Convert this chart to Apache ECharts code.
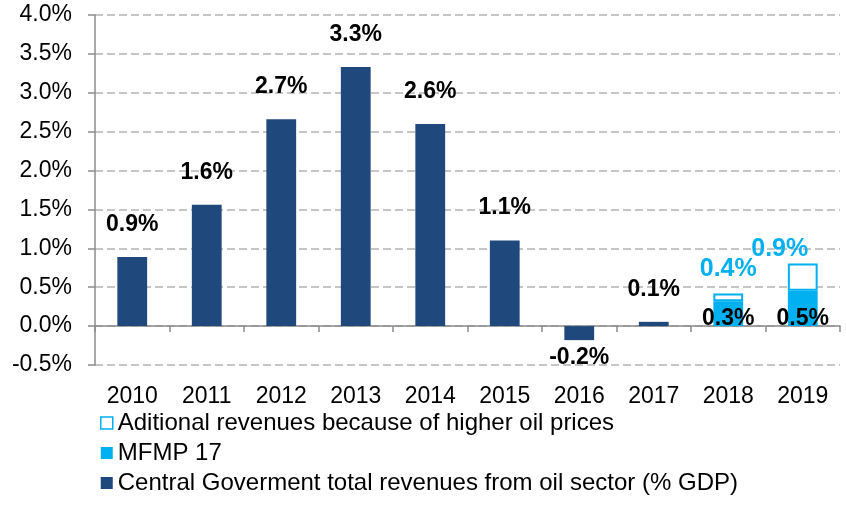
<!DOCTYPE html>
<html>
<head>
<meta charset="utf-8">
<script src="https://cdn.jsdelivr.net/npm/echarts@6/dist/echarts.min.js"></script>
<style>html,body{margin:0;padding:0;background:#fff}#c{width:846px;height:506px}</style>
</head>
<body>
<div id="c"></div>
<script>
const years = ['2010','2011','2012','2013','2014','2015','2016','2017','2018','2019'];
const oilRevenue = [0.89, 1.56, 2.66, 3.33, 2.60, 1.10, -0.18, 0.055, null, null];
const mfmp17 = [null, null, null, null, null, null, null, null, 0.32, 0.455];
const additional = [null, null, null, null, null, null, null, null, 0.10, 0.35];
const totalLabels = ['', '', '', '', '', '', '', '', '0.4%', '0.9%'];
const yMin = -0.5, yMax = 4.0, yStep = 0.5;

const NAME_MAIN = 'Central Goverment total revenues from oil sector (% GDP)';
const NAME_MFMP = 'MFMP 17';
const NAME_ADD = 'Aditional revenues because of higher oil prices';
const NAVY = '#1F497D', CYAN = '#00B0F0', AXIS = '#8c8c8c', FONT = '"Liberation Sans", Arial, sans-serif';

const chart = echarts.init(document.getElementById('c'));
chart.setOption({
  animation: false,
  textStyle: { fontFamily: FONT },
  grid: { left: 95, right: 6, top: 15, bottom: 141, containLabel: false },
  xAxis: [
    { type: 'category', data: years, position: 'top',
      axisLine: { onZero: true, lineStyle: { color: AXIS, width: 1.5 } },
      axisTick: { show: true, inside: true, length: 6, lineStyle: { color: AXIS, width: 1.5 } },
      axisLabel: { show: false }, splitLine: { show: false } },
    { type: 'category', data: years, position: 'bottom',
      axisLine: { show: false, onZero: false }, axisTick: { show: false },
      axisLabel: { color: '#000', fontSize: 23, margin: 20, fontFamily: FONT } }
  ],
  yAxis: {
    type: 'value', min: yMin, max: yMax, interval: yStep,
    axisLine: { show: true, lineStyle: { color: AXIS, width: 1.5 } },
    axisTick: { show: true, length: 7, lineStyle: { color: AXIS, width: 1.5 } },
    axisLabel: { color: '#000', fontSize: 23, margin: 23, fontFamily: FONT,
      formatter: v => v.toFixed(1) + '%' },
    splitLine: { show: true, lineStyle: { color: '#b4b4b4', width: 1.5, type: [8, 4] } }
  },
  legend: {
    orient: 'vertical', left: 100, top: 410, padding: 0, itemWidth: 12, itemHeight: 12, itemGap: 4,
    icon: 'rect',
    textStyle: { fontSize: 24, color: '#000', fontFamily: FONT, lineHeight: 26 },
    data: [
      { name: NAME_ADD, itemStyle: { color: '#fff', borderColor: CYAN, borderWidth: 1.5 } },
      { name: NAME_MFMP },
      { name: NAME_MAIN }
    ]
  },
  series: [
    { name: NAME_MAIN, type: 'bar', stack: 's', barWidth: '40%',
      itemStyle: { color: NAVY },
      data: oilRevenue.map(v => v !== null && v < 0
        ? { value: v, label: { position: 'bottom', distance: 6 } } : v),
      label: { show: true, position: 'top', distance: 21, color: '#000', fontWeight: 'bold',
        fontSize: 23, fontFamily: FONT, formatter: p => p.value.toFixed(1) + '%' } },
    { name: NAME_MFMP, type: 'bar', stack: 's', barWidth: '40%',
      itemStyle: { color: CYAN },
      data: mfmp17,
      label: { show: true, position: 'insideBottom', distance: 0, offset: [0, 4], color: '#000', fontWeight: 'bold',
        fontSize: 23, fontFamily: FONT, formatter: p => p.value.toFixed(1) + '%' } },
    { name: NAME_ADD, type: 'bar', stack: 's', barWidth: '40%',
      itemStyle: { color: '#fff', borderColor: CYAN, borderWidth: 2 },
      data: additional.map((v, i) => i === additional.length - 1 && v !== null
        ? { value: v, label: { offset: [-23, 10] } } : v),
      label: { show: true, position: 'top', distance: 12, color: CYAN, fontWeight: 'bold',
        fontSize: 25, fontFamily: FONT, formatter: p => totalLabels[p.dataIndex] } }
  ]
});
</script>
</body>
</html>
